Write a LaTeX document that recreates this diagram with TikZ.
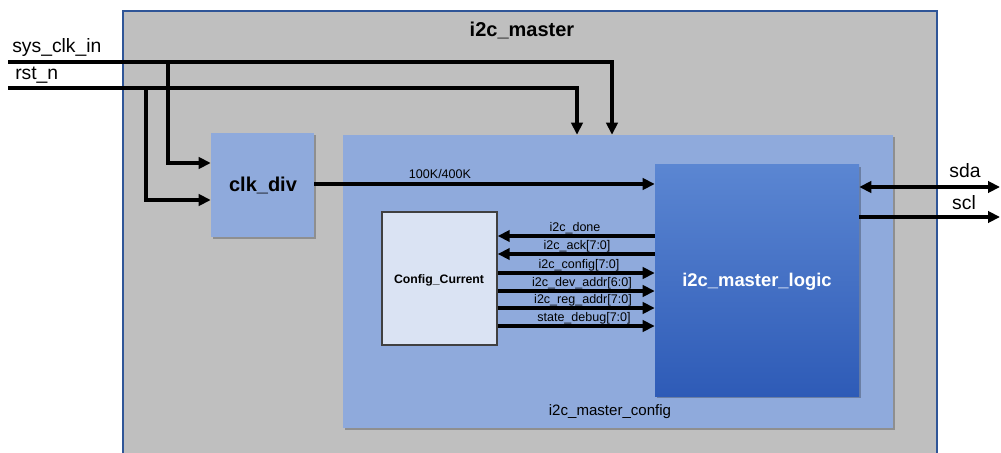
\documentclass[tikz,border=0pt]{standalone}
\usepackage{fontspec}
\setmainfont{Liberation Sans}
\usetikzlibrary{arrows.meta,shadows}
\definecolor{bggray}{HTML}{BFBFBF}
\definecolor{frameblue}{HTML}{2F5597}
\definecolor{lightblue}{HTML}{8FAADC}
\definecolor{paleblue}{HTML}{DAE3F3}
\definecolor{logictop}{HTML}{5B86D2}
\definecolor{logicbot}{HTML}{2E5BB7}
\begin{document}
\begin{tikzpicture}[x=0.75pt,y=-0.75pt,
  sig/.style={line width=2.6pt,-{Triangle[length=9pt,width=8.5pt]}},
  sigl/.style={line width=2.6pt,{Triangle[length=9pt,width=8.5pt]}-},
  sigb/.style={line width=2.6pt,{Triangle[length=9pt,width=8.5pt]}-{Triangle[length=9pt,width=8.5pt]}},
  shad/.style={drop shadow={shadow xshift=1.2pt,shadow yshift=-1.2pt,fill=black,opacity=0.25}},
  blk/.style={draw=none,fill=lightblue,shad,inner sep=0pt},
  siglab/.style={font=\fontsize{9.4}{10}\selectfont,anchor=base,inner sep=0pt},
  port/.style={font=\fontsize{14.5}{16}\selectfont,inner sep=0pt}
]
\useasboundingbox (0,0) rectangle (1001,453);
\fill[white] (0,0) rectangle (1001,453);
\begin{scope}
\clip (0,0) rectangle (1001,453);
\node[draw=frameblue,line width=2pt,fill=bggray,minimum width=610.5pt,minimum height=344.25pt,inner sep=0pt] (top) at (530,240.5) {};
\end{scope}
\node[font=\bfseries\fontsize{15}{17}\selectfont] (title) at (522,30) {i2c\_master};

\node[blk,minimum width=77.25pt,minimum height=78pt] (clkdiv) at (262.5,185) {};
\node[font=\bfseries\fontsize{15}{17}\selectfont] (clkdivlab) at (263,185) {clk\_div};

\node[blk,minimum width=412.5pt,minimum height=219.75pt] (cfg) at (618,281.5) {};
\node[font=\fontsize{11.3}{13}\selectfont] (cfglab) at (610,412) {i2c\_master\_config};

\node[draw=none,shad,top color=logictop,bottom color=logicbot,minimum width=153pt,minimum height=173.25pt,inner sep=0pt] (logic) at (757,280.5) {};
\node[font=\bfseries\fontsize{13.8}{16}\selectfont,text=white] (logiclab) at (757,282) {i2c\_master\_logic};

\node[draw=black!75,line width=1.1pt,fill=paleblue,minimum width=86.25pt,minimum height=99.75pt,inner sep=0pt] (cc) at (439.5,278.5) {};
\node[font=\bfseries\fontsize{9.2}{11}\selectfont] (cclab) at (439,280) {Config\_Current};

% inputs
\node[port,anchor=base west] (syslab) at (12,53) {sys\_clk\_in};
\node[port,anchor=base west] (rstlab) at (15,80) {rst\_n};
\coordinate (sysin) at (8,62);
\coordinate (rstin) at (8,88);
\coordinate (sysbr) at (168,62);
\coordinate (rstbr) at (146,88);
\coordinate (sysx) at (612,0);
\coordinate (rstx) at (577,0);
\draw[sig] (sysin) -| (cfg.north -| sysx);
\draw[sig] (rstin) -| (cfg.north -| rstx);
\draw[sig] (sysbr) |- (clkdiv.west |- 0,163);
\draw[sig] (rstbr) |- (clkdiv.west |- 0,200);

% clock
\draw[sig] (clkdiv.east |- 0,184) -- (logic.west |- 0,184);
\node[siglab] (clklab) at (440,179) {100K/400K};

% internal signals
\draw[sigl] (cc.east |- 0,236) -- (logic.west |- 0,236);
\node[siglab] (l1) at (575,231) {i2c\_done};
\draw[sigl] (cc.east |- 0,254) -- (logic.west |- 0,254);
\node[siglab] (l2) at (577,249) {i2c\_ack[7:0]};
\draw[sig] (cc.east |- 0,273) -- (logic.west |- 0,273);
\node[siglab] (l3) at (579,268) {i2c\_config[7:0]};
\draw[sig] (cc.east |- 0,291) -- (logic.west |- 0,291);
\node[siglab] (l4) at (582,286) {i2c\_dev\_addr[6:0]};
\draw[sig] (cc.east |- 0,308) -- (logic.west |- 0,308);
\node[siglab] (l5) at (583,303) {i2c\_reg\_addr[7:0]};
\draw[sig] (cc.east |- 0,326) -- (logic.west |- 0,326);
\node[siglab] (l6) at (584,321) {state\_debug[7:0]};

% outputs
\coordinate (sdaout) at (1000,187);
\coordinate (sclout) at (1000,217);
\draw[sigb] (logic.east |- 0,187) -- (sdaout);
\draw[sig] (logic.east |- 0,217) -- (sclout);
\node[port] (sdalab) at (965,171) {sda};
\node[port] (scllab) at (964,203) {scl};
\end{tikzpicture}
\end{document}
